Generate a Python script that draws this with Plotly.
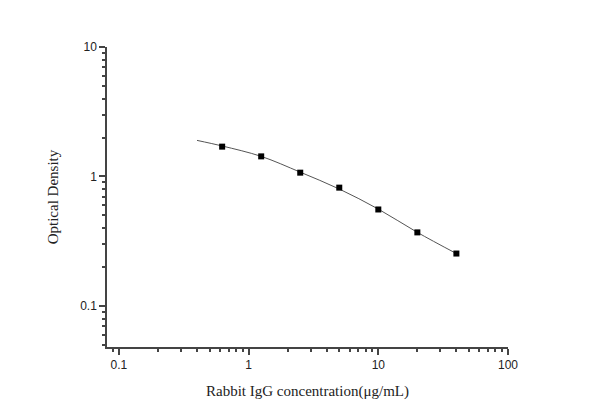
import plotly.graph_objects as go

# standard points
conc = [0.625, 1.25, 2.5, 5, 10, 20, 40]
od = [1.70, 1.43, 1.07, 0.82, 0.556, 0.37, 0.254]

# fitted curve
curve_x = [0.4, 0.625, 1.25, 2.5, 5, 10, 20, 40]
curve_y = [1.90, 1.72, 1.43, 1.08, 0.80, 0.56, 0.37, 0.254]

fig = go.Figure()
fig.add_trace(go.Scatter(x=curve_x, y=curve_y, mode='lines', line_shape='spline',
                         line=dict(color='#555555', width=1), hoverinfo='skip'))
fig.add_trace(go.Scatter(x=conc, y=od, mode='markers',
                         marker=dict(symbol='square', size=6, color='black')))

axis_common = dict(type='log', showgrid=False, zeroline=False, showline=True,
                   linecolor='#444444', linewidth=1.5, ticks='outside', ticklen=6,
                   tickcolor='#444444', tickwidth=1.5,
                   tickfont=dict(family='Liberation Sans, Arial', size=12, color='#222222'),
                   minor=dict(ticks='outside', ticklen=3, tickcolor='#444444', dtick='D1'))

fig.update_layout(
    width=590, height=414, showlegend=False,
    paper_bgcolor='white', plot_bgcolor='white',
    margin=dict(l=99, r=90, t=39, b=75),
    xaxis=dict(axis_common, range=[-1.092, 2], tickvals=[0.1, 1, 10, 100],
               ticktext=['0.1', '1', '10', '100'],
               title=dict(text='Rabbit IgG concentration(μg/mL)', standoff=14,
                          font=dict(family='Liberation Serif, Times New Roman', size=15, color='#222222'))),
    yaxis=dict(axis_common, range=[-1.317, 1], tickvals=[0.1, 1, 10],
               ticktext=['0.1', '1', '10'],
               title=dict(text='Optical Density', standoff=18,
                          font=dict(family='Liberation Serif, Times New Roman', size=15, color='#222222'))),
)

fig.write_html("out.html")
